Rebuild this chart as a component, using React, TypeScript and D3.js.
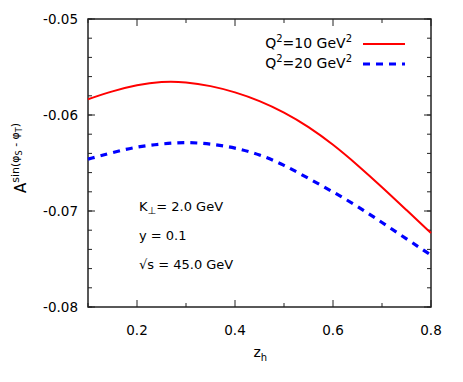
import React, { useEffect, useRef } from "react"
import * as d3 from "d3"

const W = 463
const H = 382

// z_h grid and asymmetry curves
const zh = [0.1, 0.15, 0.2, 0.25, 0.3, 0.35, 0.4, 0.45, 0.5, 0.55, 0.6, 0.65, 0.7, 0.75, 0.8]
const q2_10 = [-0.05836, -0.0575, -0.05685, -0.0565, -0.05655, -0.05695, -0.0576, -0.0585, -0.0597, -0.0612, -0.06305, -0.0652, -0.0675, -0.0699, -0.0723]
const q2_20 = [-0.0646, -0.0639, -0.0633, -0.063, -0.06282, -0.063, -0.0634, -0.0641, -0.0652, -0.0666, -0.068, -0.0695, -0.0712, -0.0729, -0.0746]

const xTicks = [0.2, 0.4, 0.6, 0.8]
const xMinor = [0.1, 0.3, 0.5, 0.7]
const yTicks = [-0.05, -0.06, -0.07, -0.08]
const yMinor = d3.range(-0.08, -0.0499, 0.002)

const legendLabels = ["10", "20"]

const FONT = "'DejaVu Sans', sans-serif"

const App = () => {
	const ref = useRef<SVGSVGElement>(null)

	useEffect(() => {
		const svg = d3.select(ref.current)
		svg.selectAll("*").remove()

		const margin = { top: 19, right: 32, bottom: 75, left: 88 }
		const width = W - margin.left - margin.right
		const height = H - margin.top - margin.bottom

		const x = d3.scaleLinear().domain([0.1, 0.8]).range([0, width])
		const y = d3.scaleLinear().domain([-0.08, -0.05]).range([height, 0])

		const g = svg.append("g").attr("transform", `translate(${margin.left},${margin.top})`)

		// ticks on all four sides, pointing inward
		const axisColor = "#222"
		const tick = (x1, y1, x2, y2) =>
			g.append("line").attr("x1", x1).attr("y1", y1).attr("x2", x2).attr("y2", y2)
				.attr("stroke", axisColor).attr("stroke-width", 1)

		xTicks.forEach((v) => {
			tick(x(v), height, x(v), height - 7)
			tick(x(v), 0, x(v), 7)
		})
		xMinor.forEach((v) => {
			tick(x(v), height, x(v), height - 4)
			tick(x(v), 0, x(v), 4)
		})
		yMinor.forEach((v) => {
			tick(0, y(v), 4, y(v))
			tick(width, y(v), width - 4, y(v))
		})
		yTicks.forEach((v) => {
			tick(0, y(v), 7, y(v))
			tick(width, y(v), width - 7, y(v))
		})

		g.append("rect").attr("width", width).attr("height", height)
			.attr("fill", "none").attr("stroke", axisColor).attr("stroke-width", 1.5)

		g.selectAll(".xl").data(xTicks).join("text")
			.attr("x", (d) => x(d)).attr("y", height + 28)
			.attr("text-anchor", "middle").attr("font-size", 13.5).attr("font-family", FONT)
			.text((d) => d.toFixed(1))

		// plain hyphen for the minus sign, like the original
		g.selectAll(".yl").data(yTicks).join("text")
			.attr("x", -10).attr("y", (d) => y(d) + 5)
			.attr("text-anchor", "end").attr("font-size", 13.5).attr("font-family", FONT)
			.text((d) => d.toFixed(2))

		// x label z_h
		const xl = svg.append("text").attr("x", margin.left + width / 2 - 6).attr("y", 357)
			.attr("font-family", FONT).attr("font-size", 14).attr("fill", "#000")
		xl.append("tspan").text("z")
		xl.append("tspan").attr("dy", 4).attr("font-size", 10).text("h")

		// y label A^{sin(phi_S - phi_T)}
		const yl = svg.append("text").attr("transform", "translate(26,193) rotate(-90)")
			.attr("font-family", FONT).attr("font-size", 15)
		yl.append("tspan").text("A")
		yl.append("tspan").attr("dy", -7).attr("font-size", 11).text("sin(\u03c6")
		yl.append("tspan").attr("dy", 3).attr("font-size", 8).text("S")
		yl.append("tspan").attr("dy", -3).attr("font-size", 11).text(" - \u03c6")
		yl.append("tspan").attr("dy", 3).attr("font-size", 8).text("T")
		yl.append("tspan").attr("dy", -3).attr("font-size", 11).text(")")

		const line = d3.line<number>()
			.x((_, i) => x(zh[i]))
			.y((d) => y(d))
			.curve(d3.curveBasis)

		g.append("path").datum(q2_10).attr("fill", "none")
			.attr("stroke", "#ff0000").attr("stroke-width", 2).attr("d", line)
		g.append("path").datum(q2_20).attr("fill", "none")
			.attr("stroke", "#0000ff").attr("stroke-width", 3.2)
			.attr("stroke-dasharray", "7,6").attr("d", line)

		// legend
		const styles = [
			{ color: "#ff0000", w: 2, dash: null },
			{ color: "#0000ff", w: 3.2, dash: "7,6" },
		]
		legendLabels.forEach((lab, i) => {
			const by = 48 + i * 20
			const t = svg.append("text").attr("x", 352).attr("y", by)
				.attr("text-anchor", "end").attr("font-family", FONT).attr("font-size", 14)
			t.append("tspan").text("Q")
			t.append("tspan").attr("dy", -6).attr("font-size", 10).text("2")
			t.append("tspan").attr("dy", 6).text(`=${lab} GeV`)
			t.append("tspan").attr("dy", -6).attr("font-size", 10).text("2")
			svg.append("line").attr("x1", 363).attr("x2", 405).attr("y1", by - 4).attr("y2", by - 4)
				.attr("stroke", styles[i].color).attr("stroke-width", styles[i].w)
				.attr("stroke-dasharray", styles[i].dash)
		})

		// kinematics
		const k = svg.append("text").attr("x", 139).attr("y", 211)
			.attr("font-family", FONT).attr("font-size", 13)
		k.append("tspan").text("K")
		k.append("tspan").attr("dy", 3).attr("font-size", 10).text("\u22a5")
		k.append("tspan").attr("dy", -3).text("= 2.0 GeV")
		svg.append("text").attr("x", 139).attr("y", 240)
			.attr("font-family", FONT).attr("font-size", 13).text("y = 0.1")
		svg.append("text").attr("x", 139).attr("y", 269)
			.attr("font-family", FONT).attr("font-size", 13).text("\u221as = 45.0 GeV")
	}, [])

	return (
		<svg
			ref={ref}
			width={W}
			height={H}
			style={{ position: "absolute", left: 0, top: 0, background: "#fff" }}
		></svg>
	)
}

export default App
